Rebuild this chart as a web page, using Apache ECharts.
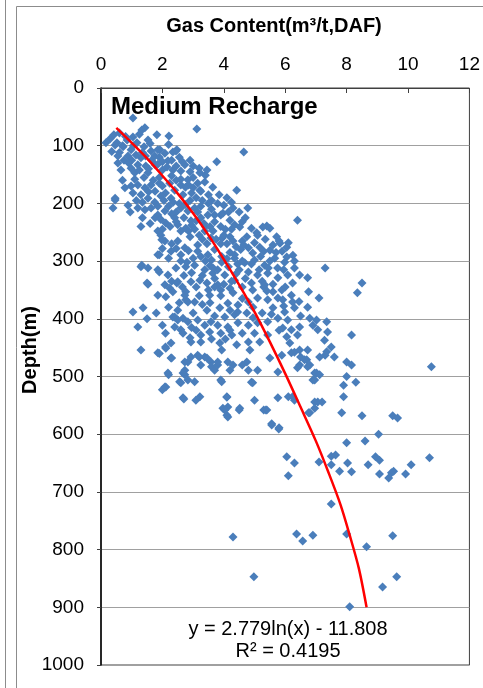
<!DOCTYPE html>
<html>
<head>
<meta charset="utf-8">
<script src="https://cdn.jsdelivr.net/npm/echarts@6/dist/echarts.min.js"></script>
<style>html,body{margin:0;padding:0;background:#fff}#chart{width:483px;height:688px}</style>
</head>
<body>
<div id="chart"></div>
<script>
// Each sample: [gas content (m3/t,DAF), depth (m)]
const samplesShallow = [
[1.04,52],[3.12,71],[0.16,95],[0.42,81],[0.52,95],[0.72,102],[1.04,85],[1.17,95],[1.53,90],[1.82,81],[2.21,83],[1.92,107],[2.34,111],[2.47,107],[1.43,69],[1.33,73],[0.6,78],[0.85,90],[1.25,80],[0.3,88],[0.46,99],[0.7,100],[0.98,107],[0.88,118],[1.14,116],[1.3,121],[1.63,109],[1.85,107],[2.08,113],[2.18,126],[2.44,109],[1.76,133],[1.46,135],[1.2,133],[0.98,139],[1.1,147],[1.53,147],[2.0,142],[2.34,142],[2.6,144],[2.73,133],[3.2,139],[3.4,151],[3.77,128],[4.65,111],[3.45,142],[3.22,147],[0.6,112],[0.75,125],[1.4,102],[1.65,125],[2.9,125],[2.55,120],[0.55,130],[1.9,120],[2.2,98],[1.0,125],[0.35,110],[1.55,140],[2.45,135],
[0.8,84],[1.6,96],[2.0,128],[1.35,112],[0.9,130],[1.75,118],[2.3,125],[2.9,145],[1.25,142],[0.65,142],
[1.45,118],[1.85,132],[2.15,137],[0.55,118],[1.05,100],[2.65,128],[3.0,135]
];
const samplesUpper = [
[3.38,163],[3.64,172],[3.22,177],[4.42,177],[4.78,208],[3.97,217],[4.2,229],[4.52,241],[0.78,173],[0.98,170],[1.2,168],[1.43,173],[1.63,168],[1.76,179],[2.0,170],[2.24,165],[2.4,177],[2.6,168],[2.83,159],[3.0,173],[3.15,165],[3.25,179],[2.67,185],[2.28,191],[1.95,187],[1.53,191],[1.3,185],[1.04,182],[0.46,191],[0.39,208],[0.88,203],[0.46,194],[1.2,208],[1.43,211],[1.63,208],[1.85,220],[2.08,213],[1.76,225],[2.11,234],[2.4,225],[2.6,208],[2.83,213],[3.05,208],[2.5,237],[2.76,243],[2.93,230],[3.25,225],[3.48,220],[3.05,245],[3.38,248],[3.8,200],[4.0,203],[4.3,208],[3.9,220],[4.35,237],[4.7,225],[4.9,243],[3.6,195],[3.5,185],[2.9,195],[2.55,200],[2.2,205],[1.1,158],[0.7,160],[1.4,155],[1.9,155],[2.3,152],[2.6,158],[3.0,155],[1.75,198],[2.45,215],[3.1,190],[3.6,210],[3.7,232],[4.05,245],[2.95,238],[3.35,235],[3.5,200],[4.1,190],[0.95,215],[1.35,225],[1.6,235],[2.0,245],[1.3,240],[6.4,229],[5.4,239],[5.27,241],[5.5,243],
[1.7,160],[2.1,182],[2.75,172],[3.3,195],[2.35,198],[1.15,195],[2.7,225],[3.15,215],[3.9,240],[4.5,215],[2.25,240],[3.65,248],[1.85,248],[2.95,182],[1.55,180],[2.05,195],[3.85,185],[4.25,198],[3.4,240],[2.6,248],
[1.9,165],[2.45,160],[2.85,168],[1.35,198],[1.85,205],[2.3,218],[2.75,202],[3.25,205],[3.7,220],[4.15,215],[4.6,232],[3.1,230],[2.45,232],[1.95,228],[3.55,240],[4.25,245],[2.85,248]
];
const samplesMiddle = [
[1.95,255],[2.08,265],[2.5,265],[2.73,277],[2.28,283],[1.85,289],[2.6,289],[3.15,283],[3.48,289],[3.15,272],[3.58,260],[1.98,263],[4.75,258],[5.07,251],[5.72,258],[5.83,269],[6.05,276],[5.5,281],[5.17,276],[4.94,286],[6.05,293],[5.1,255],[5.6,272],[5.8,265],[6.1,268],[5.9,283],[5.3,283],[4.6,265],[4.8,277],[4.35,289],[1.3,310],[1.53,312],[1.85,315],[2.18,324],[2.44,312],[2.76,310],[3.05,307],[3.38,315],[3.64,321],[3.22,333],[2.93,336],[2.5,336],[1.53,340],[2.08,341],[1.5,338],[1.33,307],[1.9,289],[1.9,319],[3.93,302],[4.35,295],[4.68,303],[5.0,298],[5.33,307],[5.66,295],[5.98,302],[4.8,319],[5.1,324],[5.43,321],[5.76,329],[6.08,324],[4.03,324],[4.35,333],[3.8,341],[4.2,347],[4.6,345],[7.3,312],[6.3,312],[6.47,324],[6.73,329],[6.24,338],[8.5,338],[8.35,355],[3.93,292],[3.7,280],[4.1,270],[3.3,262],[2.9,258],[4.4,275],[3.95,260],[3.4,300],[3.0,295],[2.6,300],[4.15,310],[4.5,315],[2.2,295],[3.7,330],[4.0,340],[2.7,325],[3.1,345],[3.5,350],[4.9,338],[5.3,345],[5.6,340],[6.0,345],
[2.3,270],[2.0,278],[4.2,285],[3.6,298],[2.95,320],
[3.2,255],[3.45,270],[4.0,255],[4.3,265],[4.55,280],[5.0,268],[5.2,292],[4.9,305],[4.45,305],[3.8,315],[3.55,308],[2.85,282],[2.45,278],[3.9,270],[5.5,300],[5.95,315],[5.25,335],[4.7,330],[4.4,322],[3.3,325],[2.3,335],[3.9,350],[5.45,312],[6.3,300],
[3.75,262],[4.2,258],[4.65,272],[5.35,262],[5.7,285],[4.1,296],[3.25,292],[2.8,302],[3.65,312],[4.6,300],[5.15,315],[4.25,335],[3.45,338],[2.65,345],[5.75,312],[6.25,290]
];
const samplesLower = [
[1.85,359],[2.11,362],[2.34,353],[2.76,353],[2.76,367],[3.05,371],[3.54,359],[3.7,345],[1.04,388],[1.37,381],[2.5,385],[2.4,397],[2.67,399],[2.83,405],[3.15,402],[3.38,411],[3.58,405],[1.2,414],[2.0,411],[2.4,414],[2.6,419],[3.25,428],[3.54,423],[2.93,440],[3.25,440],[2.28,442],[2.24,347],[2.47,338],[2.73,359],[2.83,371],[2.34,397],[2.5,402],[2.67,425],[2.9,433],[4.94,350],[5.33,341],[5.6,353],[5.89,350],[6.2,359],[5.76,364],[5.43,367],[5.1,364],[4.8,371],[4.46,376],[4.13,373],[3.87,381],[4.03,397],[4.35,393],[4.75,390],[5.6,381],[5.98,388],[6.3,381],[5.76,399],[6.08,402],[5.43,405],[5.1,407],[4.8,411],[4.46,407],[4.13,414],[3.8,411],[4.26,428],[4.6,425],[5.92,416],[6.2,419],[6.47,414],[6.4,428],[6.05,431],[6.15,442],[5.43,428],[5.17,440],[4.8,440],[4.42,445],[3.87,442],[6.76,353],[7.1,364],[6.24,371],[5.92,367],[6.73,380],[7.02,402],[6.9,411],[6.8,399],[7.06,419],[7.35,405],[7.28,437],[7.38,423],[8.16,428],[3.2,360],[3.9,360],[4.3,355],[3.45,385],[3.0,390],[3.7,395],[4.2,420],[3.6,435],[1.8,390],[1.5,400],[2.2,380],[3.3,375],
[4.6,365],[5.25,390],[4.95,380],[5.8,420],[6.5,395],[4.05,435],[3.1,420],[2.1,425],[5.0,425],[4.45,388],
[5.4,352],[5.95,378],[4.2,385],[3.55,372],[2.95,415],[3.9,425],[5.55,392],[6.45,370],[4.95,398],[2.55,372]
];
const samplesDeep = [
[1.3,454],[1.85,459],[2.11,451],[2.28,468],[2.73,475],[2.93,466],[3.15,463],[3.38,466],[3.58,475],[3.25,480],[2.73,489],[2.18,494],[2.73,497],[2.6,511],[2.83,506],[3.05,509],[2.11,518],[2.0,523],[2.67,537],[3.09,541],[3.22,535],[1.9,460],[2.1,449],[2.3,468],[2.2,497],[2.08,518],[2.7,539],[2.56,509],[2.67,494],[2.83,475],[3.2,466],[3.45,468],[3.6,483],[3.8,480],[3.93,509],[4.1,535],[4.13,553],[3.97,555],[4.5,558],[4.94,511],[5.3,558],[5.56,582],[5.79,591],[4.1,567],[3.93,454],[3.8,475],[4.13,475],[4.3,480],[4.75,475],[5.89,463],[6.2,459],[6.47,480],[6.73,483],[3.7,489],[4.8,489],[6.3,458],[6.5,466],[6.7,471],[6.4,485],[6.96,494],[6.9,506],[5.76,492],[5.5,468],[5.1,489],[4.85,454],[4.6,480],[4.2,489],[3.9,506],[4.9,510],[4.1,536],[5.0,541],[5.76,537],[6.1,535],[6.3,541],[6.96,544],[7.2,544],[7.5,449],[7.6,466],[7.12,466],[6.73,454],[6.47,454],[6.63,471],[6.8,480],[7.02,494],[7.12,497],[6.96,506],[6.24,535],[10.76,483],[8.0,475],[8.16,480],[8.0,500],[8.3,510],[7.9,515],[7.9,535],[7.35,457],[7.3,463]
];
const samplesDeeper = [
[7.84,563],[8.5,568],[9.5,568],[9.66,572],[9.04,600],[8.0,615],[8.6,612],[5.37,558],[5.8,589],[5.56,584],[4.03,558],[4.13,570],[4.52,555],[5.4,558],[6.8,563],[6.96,555],[7.06,544],[6.76,563],[6.05,639],[6.3,650],[6.1,672],[7.1,648],[7.5,638],[7.64,636],[7.5,653],[7.77,664],[8.03,650],[8.16,665],[8.7,653],[8.94,639],[9.07,645],[9.07,669],[9.37,676],[9.46,667],[9.53,664],[9.92,669],[10.1,653],[10.7,641],
[7.5,721],[4.3,778],[6.37,773],[6.57,785],[6.9,775],[8.0,773],[8.65,795],[9.5,776],[4.98,847],[9.17,865],[9.63,847],[8.1,899]
];
// Trend line as drawn in the picture: [gas, depth]
const trendPoints = [[0.5,69],[1.0,95],[1.5,122],[2.0,152],[2.5,183],[3.0,217],[3.5,255],[4.0,297],[4.5,341],[5.0,388],[5.5,440],[6.0,495],[6.5,553],[7.0,612],[7.4,665],[7.8,722],[8.1,775],[8.4,833],[8.65,900]];

const gasTicks = {min: 0, max: 12, interval: 2};
const depthTicks = {min: 0, max: 1000, interval: 100};
const titleText = 'Gas Content(m³/t,DAF)';
const yName = 'Depth(m)';
const panelLabel = 'Medium Recharge';
const equationText = 'y = 2.779ln(x) - 11.808';
const r2Text = 'R² = 0.4195';

const allSamples = [].concat(samplesShallow, samplesUpper, samplesMiddle, samplesLower, samplesDeep, samplesDeeper);

const FONT = '"Liberation Sans", Arial, sans-serif';
const chart = echarts.init(document.getElementById('chart'), null, {renderer: 'canvas'});
chart.setOption({
  animation: false,
  backgroundColor: '#ffffff',
  grid: {left: 101, top: 88, width: 369, height: 577, show: true, borderColor: '#404040', borderWidth: 1, backgroundColor: 'transparent'},
  xAxis: {
    type: 'value', position: 'top', min: gasTicks.min, max: gasTicks.max, interval: gasTicks.interval,
    axisLine: {show: true, lineStyle: {color: '#404040', width: 1}},
    axisTick: {show: true, inside: true, length: 5, lineStyle: {color: '#404040'}},
    axisLabel: {fontSize: 19, color: '#000', fontFamily: FONT, margin: 14, formatter: v => String(v)},
    splitLine: {show: false}
  },
  yAxis: {
    type: 'value', inverse: true, min: depthTicks.min, max: depthTicks.max, interval: depthTicks.interval,
    axisLine: {show: true, lineStyle: {color: '#000', width: 1.5}},
    axisTick: {show: true, inside: false, length: 4, lineStyle: {color: '#404040'}},
    axisLabel: {fontSize: 19, color: '#000', fontFamily: FONT, margin: 17, formatter: v => String(v)},
    splitLine: {show: true, lineStyle: {color: '#a0a0a0', width: 1}}
  },
  series: [
    {type: 'scatter', data: allSamples, symbol: 'diamond', symbolSize: 9, itemStyle: {color: '#4a7ebb', opacity: 1}, z: 2},
    {type: 'line', data: trendPoints, smooth: 0.3, showSymbol: false, symbol: 'none', lineStyle: {color: '#ff0000', width: 2.5}, z: 3}
  ],
  graphic: [
    {type: 'line', shape: {x1: 5.5, y1: 0, x2: 5.5, y2: 688}, style: {stroke: '#8c8c8c', lineWidth: 1}},
    {type: 'rect', shape: {x: 16.5, y: 6.5, width: 500, height: 700}, style: {stroke: '#8c8c8c', fill: 'none', lineWidth: 1}},
    {type: 'text', x: 274, y: 26, style: {text: titleText, font: 'bold 20px ' + FONT, fill: '#000', textAlign: 'center', textVerticalAlign: 'middle'}},
    {type: 'text', x: 30, y: 350, rotation: Math.PI / 2, style: {text: yName, font: 'bold 20px ' + FONT, fill: '#000', textAlign: 'center', textVerticalAlign: 'middle'}},
    {type: 'text', x: 111, y: 107.5, style: {text: panelLabel, font: 'bold 24px ' + FONT, fill: '#000', textAlign: 'left', textVerticalAlign: 'middle'}, z: 10},
    {type: 'text', x: 288, y: 629, style: {text: equationText, font: '20px ' + FONT, fill: '#000', textAlign: 'center', textVerticalAlign: 'middle'}, z: 10},
    {type: 'text', x: 288, y: 651, style: {text: r2Text, font: '20px ' + FONT, fill: '#000', textAlign: 'center', textVerticalAlign: 'middle'}, z: 10}
  ]
});
</script>
</body>
</html>
